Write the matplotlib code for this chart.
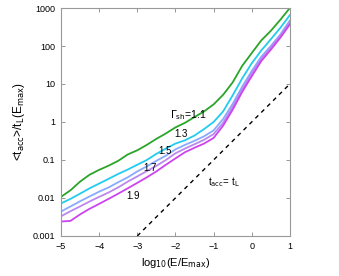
import matplotlib
matplotlib.use('Agg')
import matplotlib.pyplot as plt

plt.rcParams['font.family'] = ['Liberation Sans', 'DejaVu Sans']

# log10(E/Emax)
x = [-5, -4.75, -4.5, -4.25, -4, -3.75, -3.5, -3.25, -3, -2.75, -2.5, -2.25,
     -2, -1.75, -1.5, -1.25, -1, -0.75, -0.5, -0.25, 0, 0.25, 0.5, 0.75, 1]

# <t_acc>/t_L(Emax) for each shock Lorentz factor
g11 = [0.0107, 0.016, 0.027, 0.041, 0.055, 0.071, 0.095, 0.14, 0.18, 0.25, 0.36, 0.5,
       0.72, 0.95, 1.35, 1.9, 2.9, 5.2, 11, 30, 65, 140, 250, 490, 1000]
g13 = [0.0072, 0.0095, 0.013, 0.018, 0.024, 0.032, 0.043, 0.056, 0.075, 0.1, 0.145, 0.2,
       0.27, 0.33, 0.44, 0.65, 1.0, 1.9, 5, 14, 35, 76, 150, 300, 650]
g15 = [0.0044, 0.006, 0.0082, 0.011, 0.0147, 0.019, 0.026, 0.035, 0.05, 0.068, 0.095, 0.13,
       0.19, 0.25, 0.32, 0.42, 0.6, 1.2, 3.0, 8.5, 22, 52, 100, 200, 470]
g17 = [0.0033, 0.0045, 0.006, 0.0081, 0.0107, 0.014, 0.019, 0.027, 0.037, 0.051, 0.07, 0.1,
       0.15, 0.2, 0.26, 0.34, 0.48, 0.95, 2.5, 7.2, 19, 46, 92, 185, 420]
g19 = [0.0024, 0.0025, 0.0037, 0.0052, 0.007, 0.0095, 0.013, 0.018, 0.025, 0.035, 0.05, 0.075,
       0.11, 0.16, 0.21, 0.27, 0.38, 0.8, 2.1, 6.2, 16, 40, 80, 165, 370]

# t_acc = t_L reference line
ref_x = [-3, 1]
ref_y = [0.001, 10]

yticks = [0.001, 0.01, 0.1, 1, 10, 100, 1000]
ytick_labels = ['0.001', '0.01', '0.1', '1', '10', '100', '1000']
xticks = [-5, -4, -3, -2, -1, 0, 1]

fig = plt.figure(figsize=(3.39, 2.76), dpi=100)
ax = fig.add_axes([0.18, 0.145, 0.675, 0.826])

ax.plot(x, g11, color='#2aa52a', lw=1.3)
ax.plot(x, g13, color='#22ccee', lw=1.3)
ax.plot(x, g15, color='#88aaff', lw=1.3)
ax.plot(x, g17, color='#bb88ee', lw=1.3)
ax.plot(x, g19, color='#cc44ee', lw=1.3)
ax.plot(ref_x, ref_y, color='black', lw=1.0, ls=(0, (3, 3)))

ax.set_yscale('log')
ax.set_xlim(-5, 1)
ax.set_ylim(0.001, 1000)
ax.set_yticks(yticks)
ax.set_yticklabels(ytick_labels)
ax.set_xticks(xticks)
ax.minorticks_off()
ax.tick_params(direction='in', length=3, width=0.6, color='#888888',
               labelsize=6.5, top=True, right=True, pad=4)
for s in ax.spines.values():
    s.set_color('#999999')
    s.set_linewidth(0.8)

ax.text(-2.15, 1.25, r'$\Gamma_{\rm sh}$=1.1', fontsize=7.5)
ax.text(-2.02, 0.4, '1.3', fontsize=7)
ax.text(-2.45, 0.14, '1.5', fontsize=7)
ax.text(-2.85, 0.052, '1.7', fontsize=7)
ax.text(-3.3, 0.0095, '1.9', fontsize=7)
ax.text(-1.15, 0.022, r't$_{\rm acc}$= t$_{\rm L}$', fontsize=7)

ax.set_xlabel(r'log$_{10}$(E/E$_{\rm max}$)', fontsize=8)
ax.set_ylabel(r'<t$_{\rm acc}$>/t$_{\rm L}$(E$_{\rm max}$)', fontsize=8.5)

fig.savefig('out.png', dpi=100)
